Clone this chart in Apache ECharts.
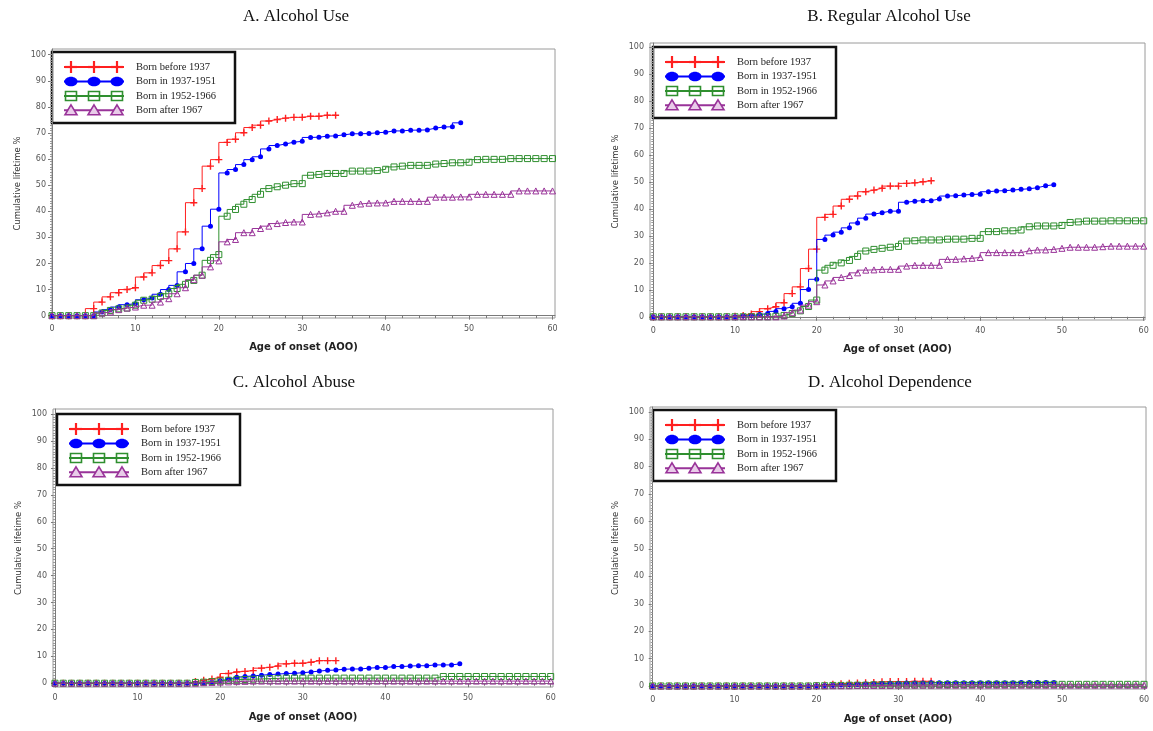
<!DOCTYPE html>
<html>
<head>
<meta charset="utf-8">
<title>Cumulative lifetime % by birth cohort</title>
<script src="https://cdn.jsdelivr.net/npm/echarts@6/dist/echarts.min.js"></script>
<style>
  html, body { margin: 0; padding: 0; background: #fff; }
  #chart { width: 1153px; height: 731px; }
</style>
</head>
<body>
<div id="chart"></div>
<script>
// labels
var xTicks = [0, 10, 20, 30, 40, 50, 60];
var yTicks = [0, 10, 20, 30, 40, 50, 60, 70, 80, 90, 100];
var cohorts = ['Born before 1937', 'Born in 1937-1951', 'Born in 1952-1966', 'Born after 1967'];
var panelTitles = ['A. Alcohol Use', 'B. Regular Alcohol Use', 'C. Alcohol Abuse', 'D. Alcohol Dependence'];

// cumulative lifetime %, one value per year of age starting at age 0
// A. Alcohol use
var useBefore1937 = [0, 0, 0, 0, 0, 2.7, 5.2, 7.2, 8.8, 10.0, 10.7, 14.8, 16.4, 19.2, 21.1, 25.6, 32.1, 43.3, 48.7, 57.3,
  59.8, 66.4, 67.6, 70.1, 72.1, 73.0, 74.6, 75.2, 75.7, 76.0, 76.0, 76.4, 76.4, 76.8, 76.8];
var use1937to1951 = [0, 0, 0, 0, 0, 0, 1.4, 2.3, 3.3, 4.2, 4.6, 6.1, 6.8, 8.2, 10.0, 11.6, 16.8, 20.0, 25.6, 34.3,
  40.8, 54.7, 56.0, 57.9, 59.8, 60.9, 63.9, 65.2, 65.8, 66.5, 66.8, 68.3, 68.4, 68.8, 68.9, 69.3, 69.7, 69.7, 69.8, 70.1,
  70.3, 70.8, 70.8, 71.1, 71.1, 71.2, 71.9, 72.3, 72.4, 73.9];
var use1952to1966 = [0, 0, 0, 0, 0, 0, 1.0, 2.0, 2.6, 2.9, 4.0, 5.9, 6.3, 7.4, 8.4, 10.4, 12.0, 13.5, 15.5, 21.2,
  23.4, 38.1, 40.7, 42.7, 44.5, 46.5, 48.7, 49.4, 50.0, 50.6, 50.6, 53.8, 54.1, 54.5, 54.5, 54.5, 55.4, 55.4, 55.4, 55.6,
  56.1, 57.0, 57.3, 57.6, 57.6, 57.6, 58.1, 58.3, 58.6, 58.6, 58.8, 59.8, 59.9, 59.9, 59.9, 60.2, 60.2, 60.2, 60.2, 60.2, 60.2];
var useAfter1967 = [0, 0, 0, 0, 0, 0, 1.0, 1.4, 2.3, 2.9, 3.3, 4.0, 4.0, 5.2, 6.5, 8.4, 10.7, 13.8, 15.5, 18.7,
  21.0, 28.3, 29.2, 31.8, 31.8, 33.4, 34.3, 35.3, 35.7, 35.9, 35.9, 38.8, 39.0, 39.4, 40.0, 40.0, 42.3, 42.8, 43.1, 43.2,
  43.2, 43.8, 43.8, 43.8, 43.8, 43.8, 45.4, 45.4, 45.4, 45.5, 45.5, 46.5, 46.5, 46.5, 46.5, 46.5, 47.8, 47.8, 47.8, 47.8, 47.8];

// B. Regular alcohol use
var regBefore1937 = [0, 0, 0, 0, 0, 0, 0, 0, 0, 0, 0.2, 0.5, 1.0, 1.9, 3.0, 3.7, 5.2, 8.6, 11.1, 17.9,
  25.1, 36.9, 38.0, 41.1, 43.6, 44.8, 46.4, 47.0, 47.7, 48.5, 48.5, 49.5, 49.7, 50.1, 50.5];
var reg1937to1951 = [0, 0, 0, 0, 0, 0, 0, 0, 0, 0, 0, 0.3, 0.4, 0.8, 1.2, 2.0, 3.0, 3.7, 5.0, 10.1,
  13.9, 28.7, 30.3, 31.4, 33.0, 34.8, 36.6, 38.1, 38.6, 39.2, 39.2, 42.5, 42.9, 43.1, 43.1, 43.7, 44.8, 44.9, 45.2, 45.4,
  45.5, 46.4, 46.7, 46.8, 47.0, 47.3, 47.5, 47.9, 48.6, 49.0];
var reg1952to1966 = [0, 0, 0, 0, 0, 0, 0, 0, 0, 0, 0, 0, 0, 0, 0, 0.2, 0.5, 1.2, 2.2, 3.8,
  6.2, 17.3, 19.1, 20.0, 20.9, 22.4, 24.4, 25.0, 25.4, 25.8, 26.1, 28.1, 28.2, 28.5, 28.5, 28.5, 28.8, 28.8, 28.8, 29.1,
  29.1, 31.6, 31.6, 31.9, 31.9, 32.2, 33.4, 33.7, 33.7, 33.7, 33.9, 35.0, 35.2, 35.5, 35.5, 35.5, 35.6, 35.6, 35.6, 35.6, 35.6];
var regAfter1967 = [0, 0, 0, 0, 0, 0, 0, 0, 0, 0, 0, 0, 0, 0, 0, 0, 0.3, 1.5, 2.5, 4.3,
  5.6, 11.8, 13.3, 14.6, 15.3, 16.3, 17.3, 17.4, 17.6, 17.6, 17.6, 18.8, 19.1, 19.1, 19.1, 19.1, 21.3, 21.3, 21.5, 21.7,
  22.0, 23.8, 23.8, 23.8, 23.8, 23.8, 24.5, 24.8, 24.8, 25.0, 25.4, 25.8, 25.8, 25.8, 25.8, 26.0, 26.2, 26.2, 26.2, 26.2, 26.2];

// C. Alcohol abuse
var abuseBefore1937 = [0, 0, 0, 0, 0, 0, 0, 0, 0, 0, 0, 0, 0, 0, 0, 0, 0, 0.6, 1.1, 1.6,
  2.2, 3.6, 4.2, 4.4, 4.7, 5.6, 5.9, 6.4, 7.2, 7.4, 7.4, 7.8, 8.4, 8.4, 8.4];
var abuse1937to1951 = [0, 0, 0, 0, 0, 0, 0, 0, 0, 0, 0, 0, 0, 0, 0, 0, 0, 0, 0, 0.4,
  0.9, 1.5, 2.2, 2.5, 2.7, 3.0, 3.2, 3.4, 3.6, 3.7, 3.9, 4.2, 4.5, 4.8, 4.9, 5.2, 5.3, 5.3, 5.6, 5.8,
  5.8, 6.2, 6.2, 6.4, 6.5, 6.5, 6.8, 6.8, 6.8, 7.2];
var abuse1952to1966 = [0, 0, 0, 0, 0, 0, 0, 0, 0, 0, 0, 0, 0, 0, 0, 0, 0, 0.3, 0.4, 0.6,
  0.8, 1.1, 1.3, 1.4, 1.5, 1.6, 1.7, 1.8, 1.9, 1.9, 1.9, 1.9, 1.9, 1.9, 1.9, 1.9, 1.9, 1.9, 1.9, 1.9,
  1.9, 1.9, 1.9, 1.9, 1.9, 1.9, 1.9, 2.5, 2.5, 2.5, 2.5, 2.5, 2.5, 2.5, 2.5, 2.5, 2.5, 2.5, 2.5, 2.5, 2.5];
var abuseAfter1967 = [0, 0, 0, 0, 0, 0, 0, 0, 0, 0, 0, 0, 0, 0, 0, 0, 0, 0, 0.2, 0.3,
  0.4, 0.5, 0.6, 0.7, 0.8, 0.8, 0.8, 0.8, 0.8, 0.8, 0.8, 0.8, 0.8, 0.8, 0.8, 0.8, 0.8, 0.8, 0.8, 0.8,
  0.8, 0.8, 0.8, 0.8, 0.8, 0.8, 0.8, 0.8, 0.8, 0.8, 0.8, 0.8, 0.8, 0.8, 0.8, 0.8, 0.8, 0.8, 0.8, 0.8, 0.8];

// D. Alcohol dependence
var depBefore1937 = [0, 0, 0, 0, 0, 0, 0, 0, 0, 0, 0, 0, 0, 0, 0, 0, 0, 0, 0, 0,
  0.2, 0.4, 0.6, 0.8, 1.0, 1.1, 1.2, 1.3, 1.5, 1.6, 1.6, 1.6, 1.7, 1.7, 1.7];
var dep1937to1951 = [0, 0, 0, 0, 0, 0, 0, 0, 0, 0, 0, 0, 0, 0, 0, 0, 0, 0, 0, 0,
  0.1, 0.2, 0.3, 0.4, 0.5, 0.6, 0.7, 0.8, 0.9, 1.0, 1.0, 1.1, 1.1, 1.1, 1.2, 1.2, 1.2, 1.2, 1.2, 1.2,
  1.2, 1.2, 1.2, 1.2, 1.2, 1.3, 1.3, 1.3, 1.3, 1.3];
var dep1952to1966 = [0, 0, 0, 0, 0, 0, 0, 0, 0, 0, 0, 0, 0, 0, 0, 0, 0, 0, 0, 0,
  0.1, 0.1, 0.2, 0.2, 0.3, 0.3, 0.3, 0.4, 0.4, 0.4, 0.4, 0.4, 0.4, 0.4, 0.4, 0.5, 0.5, 0.5, 0.5, 0.5,
  0.6, 0.6, 0.6, 0.6, 0.6, 0.6, 0.6, 0.6, 0.6, 0.6, 0.6, 0.6, 0.6, 0.6, 0.6, 0.6, 0.6, 0.6, 0.6, 0.6, 0.6];
var depAfter1967 = [0, 0, 0, 0, 0, 0, 0, 0, 0, 0, 0, 0, 0, 0, 0, 0, 0, 0, 0, 0,
  0.1, 0.1, 0.1, 0.1, 0.1, 0.2, 0.2, 0.2, 0.2, 0.2, 0.3, 0.3, 0.3, 0.3, 0.3, 0.3, 0.3, 0.3, 0.3, 0.3,
  0.3, 0.3, 0.3, 0.3, 0.3, 0.3, 0.3, 0.3, 0.3, 0.3, 0.3, 0.3, 0.3, 0.3, 0.3, 0.3, 0.3, 0.3, 0.3, 0.3, 0.3];

var panelData = [
  [useBefore1937, use1937to1951, use1952to1966, useAfter1967],
  [regBefore1937, reg1937to1951, reg1952to1966, regAfter1967],
  [abuseBefore1937, abuse1937to1951, abuse1952to1966, abuseAfter1967],
  [depBefore1937, dep1937to1951, dep1952to1966, depAfter1967]
];

// layout of each panel (pixels) and axis ranges
var panels = [
  {grid: {left: 52, top: 49, width: 503, height: 269}, x: [0, 60.3], y: [-0.9, 102.2], title: [296, 17], legend: [52, 52], xNameGap: 24},
  {grid: {left: 650, top: 43, width: 495, height: 277}, x: [-0.4, 60.16], y: [-1.2, 101.6], title: [889, 17], legend: [653, 47], xNameGap: 24},
  {grid: {left: 53, top: 409, width: 500, height: 278}, x: [-0.24, 60.28], y: [-1.4, 101.9], title: [294, 383], legend: [57, 414], xNameGap: 25},
  {grid: {left: 650, top: 407, width: 496, height: 282}, x: [-0.33, 60.24], y: [-1.1, 101.8], title: [890, 383], legend: [653, 410], xNameGap: 25}
];

var colors = ['#ff1f1f', '#0000ff', '#2f8f2f', '#993399'];
var plusPath = 'path://M4,0H6V4H10V6H6V10H4V6H0V4H4Z';

var xMinor = [];
for (var i = 0; i <= 60; i += 2) xMinor.push(i);
var yMinor = [];
for (var j = 0; j <= 100; j += 1) yMinor.push(j);

var axisGray = '#7a7a7a';
var tickFont = {fontSize: 8, color: '#555', fontFamily: 'DejaVu Sans'};

var grids = [], xAxes = [], yAxes = [], series = [], graphics = [];

panels.forEach(function (p, k) {
  grids.push(Object.assign({show: true, borderColor: '#9a9a9a', borderWidth: 1, backgroundColor: '#fff'}, p.grid));

  xAxes.push({
    type: 'value', gridIndex: k, min: p.x[0], max: p.x[1], position: 'bottom',
    axisLine: {show: true, lineStyle: {color: axisGray}},
    axisTick: {show: true, customValues: xTicks, length: 4, lineStyle: {color: axisGray}},
    axisLabel: Object.assign({customValues: xTicks, margin: 7}, tickFont),
    splitLine: {show: false},
    name: 'Age of onset (AOO)', nameLocation: 'middle', nameGap: p.xNameGap,
    nameTextStyle: {fontSize: 10, fontWeight: 'bold', color: '#222', fontFamily: 'DejaVu Sans'}
  });
  xAxes.push({
    type: 'value', gridIndex: k, min: p.x[0], max: p.x[1], position: 'bottom',
    axisLine: {show: false},
    axisTick: {show: true, customValues: xMinor, length: 2.5, lineStyle: {color: axisGray}},
    axisLabel: {show: false}, splitLine: {show: false}
  });
  yAxes.push({
    type: 'value', gridIndex: k, min: p.y[0], max: p.y[1], position: 'left',
    axisLine: {show: true, lineStyle: {color: axisGray}},
    axisTick: {show: true, customValues: yTicks, length: 4, lineStyle: {color: axisGray}},
    axisLabel: Object.assign({customValues: yTicks, margin: 6}, tickFont),
    splitLine: {show: false},
    name: 'Cumulative lifetime %', nameLocation: 'middle', nameGap: 30,
    nameTextStyle: {fontSize: 8.5, color: '#333', fontFamily: 'DejaVu Sans'}
  });
  yAxes.push({
    type: 'value', gridIndex: k, min: p.y[0], max: p.y[1], position: 'left',
    axisLine: {show: false},
    axisTick: {show: true, customValues: yMinor, length: 2, lineStyle: {color: '#999'}},
    axisLabel: {show: false}, splitLine: {show: false}
  });

  var markers = [
    {symbol: plusPath, symbolSize: 7, itemStyle: {color: colors[0], borderWidth: 0}},
    {symbol: 'circle', symbolSize: 5, itemStyle: {color: colors[1], borderWidth: 0}},
    {symbol: 'rect', symbolSize: 6, itemStyle: {color: 'rgba(0,0,0,0)', borderColor: colors[2], borderWidth: 1}},
    {symbol: 'triangle', symbolSize: 6, itemStyle: {color: 'rgba(0,0,0,0)', borderColor: colors[3], borderWidth: 1}}
  ];

  panelData[k].forEach(function (vals, s) {
    series.push(Object.assign({
      name: cohorts[s],
      type: 'line',
      step: 'start',
      xAxisIndex: 2 * k,
      yAxisIndex: 2 * k,
      data: vals.map(function (v, age) { return [age, v]; }),
      showSymbol: true,
      lineStyle: {color: colors[s], width: 1},
      z: 2 + s,
      animation: false,
      emphasis: {disabled: true}
    }, markers[s]));
  });

  // panel title
  graphics.push({
    type: 'text', x: p.title[0], y: p.title[1],
    style: {text: panelTitles[k], fill: '#111', font: '17px "Liberation Serif"', textAlign: 'center', textVerticalAlign: 'middle'}
  });

  // legend box
  var lx = p.legend[0], ly = p.legend[1];
  var rowY = [15, 29.5, 44, 58.3];
  var markX = [19, 42, 65];
  var items = [];
  items.push({type: 'rect', shape: {x: 0, y: 0, width: 183, height: 71},
    style: {fill: '#fff', stroke: '#111', lineWidth: 2.5}});
  rowY.forEach(function (ry, s) {
    items.push({type: 'line', shape: {x1: 12, y1: ry, x2: 72, y2: ry}, style: {stroke: colors[s], lineWidth: 2}});
    markX.forEach(function (mx) {
      if (s === 0) {
        items.push({type: 'line', shape: {x1: mx - 6, y1: ry, x2: mx + 6, y2: ry}, style: {stroke: colors[0], lineWidth: 2.2}});
        items.push({type: 'line', shape: {x1: mx, y1: ry - 6, x2: mx, y2: ry + 6}, style: {stroke: colors[0], lineWidth: 2.2}});
      } else if (s === 1) {
        items.push({type: 'ellipse', shape: {cx: mx, cy: ry, rx: 6.5, ry: 4.8}, style: {fill: colors[1]}});
      } else if (s === 2) {
        items.push({type: 'rect', shape: {x: mx - 5.5, y: ry - 4.5, width: 11, height: 9}, style: {fill: 'none', stroke: colors[2], lineWidth: 1.6}});
      } else {
        items.push({type: 'polygon', shape: {points: [[mx, ry - 5.5], [mx + 6, ry + 4.5], [mx - 6, ry + 4.5]]},
          style: {fill: '#e9cce9', stroke: colors[3], lineWidth: 1.6}});
      }
    });
    items.push({type: 'text', x: 84, y: ry,
      style: {text: cohorts[s], fill: '#222', font: '10.5px "Liberation Serif"', textVerticalAlign: 'middle'}});
  });
  graphics.push({type: 'group', x: lx, y: ly, z: 100, children: items});
});

var myChart = echarts.init(document.getElementById('chart'), null, {renderer: 'canvas'});
myChart.setOption({
  backgroundColor: '#fff',
  animation: false,
  grid: grids,
  xAxis: xAxes,
  yAxis: yAxes,
  series: series,
  graphic: {elements: graphics}
});
</script>
</body>
</html>
